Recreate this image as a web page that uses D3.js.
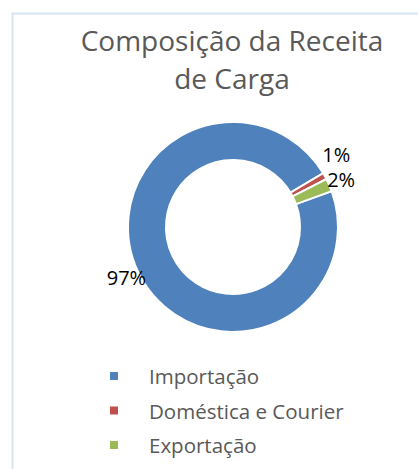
<!DOCTYPE html>
<html>
<head>
<meta charset="utf-8">
<script src="https://cdn.jsdelivr.net/npm/d3@7"></script>
<style>
  html, body { margin: 0; padding: 0; background: #fff; }
  svg { display: block; font-family: "Open Sans", sans-serif; }
</style>
</head>
<body>
<div id="chart"></div>
<script>
// Composição da Receita de Carga (donut)

var categories = ["Importação", "Doméstica e Courier", "Exportação"];
var values = [97, 1, 2];
var labels = ["97%", "1%", "2%"];
var colors = ["#4F81BD", "#C0504D", "#9BBB59"];
var titleLines = ["Composição da Receita", "de Carga"];

var svgWidth = 418;
var svgHeight = 469;

var svg = d3.select("#chart")
    .append("svg")
    .attr("width", svgWidth)
    .attr("height", svgHeight);

// chart area border (cut off on the right and bottom)
svg.append("path")
    .attr("d", "M12.5,469 L12.5,13.5 L418,13.5")
    .attr("fill", "none")
    .attr("stroke", "#DAE3F0")
    .attr("stroke-width", 2);

// Title
svg.append("g")
    .selectAll("text")
    .data(titleLines)
    .enter()
    .append("text")
    .attr("x", 232)
    .attr("y", (d, i) => 51 + i * 38)
    .attr("text-anchor", "middle")
    .attr("font-size", 28)
    .attr("fill", "#595959")
    .text(d => d);

// Donut
var cx = 233, cy = 227;
var outerR = 105, innerR = 67;
var startAngle = 70 * Math.PI / 180;

var pie = d3.pie()
    .sort(null)
    .startAngle(startAngle)
    .endAngle(startAngle + 2 * Math.PI);

var arc = d3.arc()
    .innerRadius(innerR)
    .outerRadius(outerR);

var arcs = pie(values);

var donut = svg.append("g")
    .attr("transform", `translate(${cx}, ${cy})`);

donut.selectAll("path")
    .data(arcs)
    .enter()
    .append("path")
    .attr("d", arc)
    .attr("fill", (d, i) => colors[i])
    .attr("stroke", "#fff")
    .attr("stroke-width", 2);

// Data labels: placed outside the ring on each slice's mid angle
var labelR = 118;
var labelPos = arcs.map(function(d, i) {
    var a = (d.startAngle + d.endAngle) / 2;
    return { i: i, x: Math.sin(a) * labelR, y: -Math.cos(a) * labelR };
});

// move overlapping labels upward, keeping the lowest one in place
var sorted = labelPos.slice().sort((a, b) => b.y - a.y);
for (var k = 1; k < sorted.length; k++) {
    var below = sorted[k - 1], cur = sorted[k];
    if (Math.abs(below.x - cur.x) < 40 && below.y - cur.y < 25) {
        cur.y = below.y - 25;
    }
}

donut.selectAll("text")
    .data(labelPos)
    .enter()
    .append("text")
    .attr("x", d => d.x)
    .attr("y", d => d.y)
    .attr("dy", "0.35em")
    .attr("text-anchor", "middle")
    .attr("font-size", 20)
    .attr("fill", "#000")
    .text(d => labels[d.i]);

// Legend
var legend = svg.append("g")
    .attr("transform", "translate(110, 376)");

var rows = legend.selectAll("g")
    .data(categories)
    .enter()
    .append("g")
    .attr("transform", (d, i) => `translate(0, ${i * 34.5})`);

rows.append("rect")
    .attr("x", 0)
    .attr("y", -4)
    .attr("width", 8)
    .attr("height", 8)
    .attr("fill", (d, i) => colors[i]);

rows.append("text")
    .attr("x", 39)
    .attr("y", 1)
    .attr("dy", "0.35em")
    .attr("font-size", 20.5)
    .attr("fill", "#595959")
    .text(d => d);
</script>
</body>
</html>
